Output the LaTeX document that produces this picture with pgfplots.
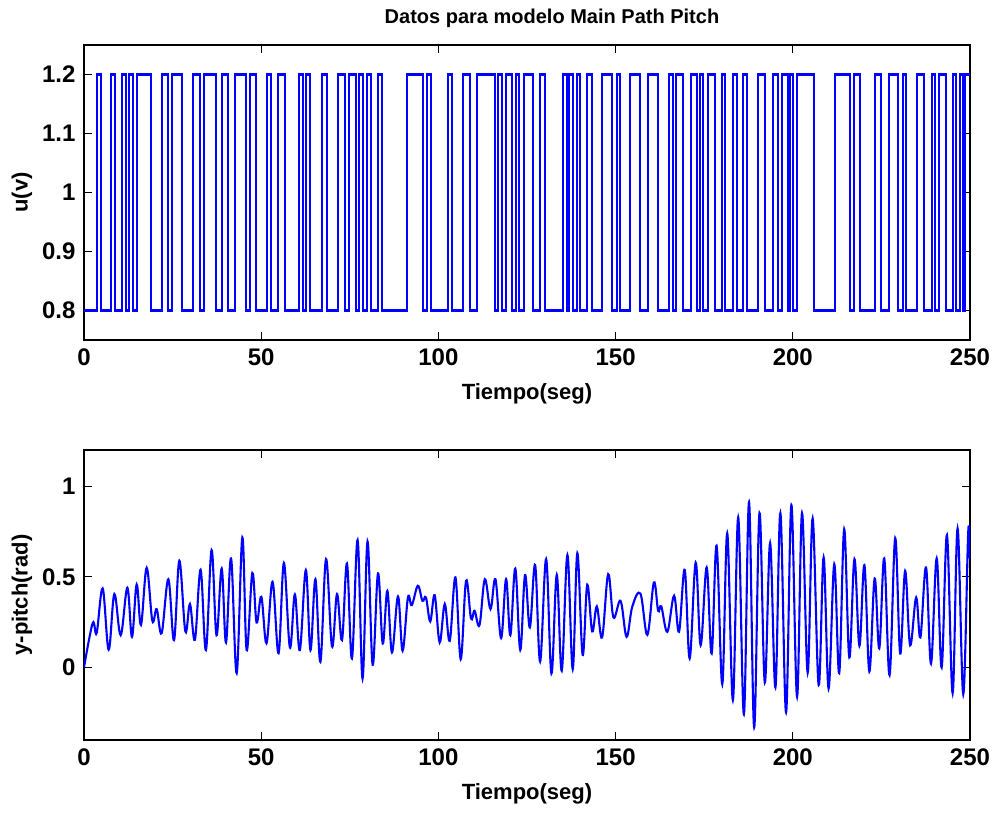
\documentclass[border=0pt]{standalone}
\usepackage{fontspec}
\setmainfont{Liberation Sans}
\usepackage{pgfplots}
\pgfplotsset{compat=1.18}
\begin{document}
\begin{tikzpicture}
\useasboundingbox (-84pt,-73pt) rectangle (913pt,740pt);
\pgfplotsset{
  every axis/.append style={
    scale only axis, width=886pt,
    xmin=0, xmax=250, xtick={0,50,100,150,200,250},
    font=\fontsize{22}{26}\selectfont\bfseries,
    tick label style={font=\fontsize{24}{28}\selectfont\bfseries},
    yticklabel style={xshift=-5pt},
    xticklabel style={yshift=-5pt},
    /pgf/number format/assume math mode=true,
    axis line style={line width=1.2pt},
    major tick length=8pt,
    every tick/.style={black, line width=1pt},
    xlabel={Tiempo(seg)},
    every axis x label/.style={at={(axis description cs:0.5,0)}, yshift=-54pt, anchor=center},
    every axis y label/.style={at={(axis description cs:0,0.5)}, xshift=-62pt, rotate=90, anchor=center},
  },
}
\begin{axis}[
  name=top, at={(0,400pt)}, anchor=south west,
  height=295pt,
  ymin=0.75, ymax=1.25, ytick={0.8,0.9,1,1.1,1.2},
  yticklabels={0.8,0.9,1,1.1,1.2},
  ylabel={u(v)},
  title={Datos para modelo Main Path Pitch},
  title style={at={(axis description cs:0.5,1)}, anchor=center, xshift=25pt, yshift=21pt, font=\fontsize{20}{24}\selectfont\bfseries},
]
\addplot[const plot, blue, line width=2.1pt] coordinates {
(0,0.8) (3.58,1.2) (4.71,0.8) (7.62,1.2) (8.75,0.8) (10.64,1.2) (11.77,0.8) (12.70,1.2) (13.74,0.8) (15.04,1.2) (18.82,0.8) (21.92,1.2) (23.79,0.8) (24.75,1.2) (27.74,0.8) (30.84,1.2) (32.73,0.8) (33.86,1.2) (37.16,0.8) (38.85,1.2) (40.72,0.8) (42.61,1.2) (45.71,0.8) (46.84,1.2) (48.53,0.8) (51.72,1.2) (52.68,0.8) (54.82,1.2) (56.72,0.8) (60.75,1.2) (61.71,0.8) (62.56,1.2) (63.77,0.8) (67.07,1.2) (68.65,0.8) (71.76,1.2) (73.65,0.8) (74.86,1.2) (76.66,0.8) (77.68,1.2) (78.81,0.8) (79.94,1.2) (80.90,0.8) (83.04,1.2) (84.00,0.8) (91.05,1.2) (95.57,0.8) (96.87,1.2) (97.83,0.8) (102.79,1.2) (103.92,0.8) (107.03,1.2) (108.92,0.8) (110.81,1.2) (115.97,0.8) (116.90,1.2) (117.86,0.8) (119.07,1.2) (120.68,0.8) (121.90,1.2) (122.83,0.8) (124.24,1.2) (126.69,0.8) (128.67,1.2) (130.08,0.8) (135.07,1.2) (136.20,0.8) (136.94,1.2) (138.06,0.8) (139.02,1.2) (139.95,0.8) (141.84,1.2) (143.26,0.8) (146.08,1.2) (148.90,0.8) (150.31,1.2) (151.24,0.8) (154.06,1.2) (156.88,0.8) (159.06,1.2) (161.88,0.8) (165.15,1.2) (166.11,0.8) (166.96,1.2) (169.10,0.8) (171.28,1.2) (172.88,0.8) (173.81,1.2) (174.75,0.8) (176.16,1.2) (178.05,0.8) (179.94,1.2) (180.87,0.8) (183.04,1.2) (184.17,0.8) (186.03,1.2) (187.16,0.8) (190.26,1.2) (192.16,0.8) (194.33,1.2) (195.91,0.8) (196.87,1.2) (198.65,0.8) (199.21,1.2) (200.06,0.8) (201.19,1.2) (205.98,0.8) (211.91,1.2) (216.14,0.8) (217.27,1.2) (218.96,0.8) (223.19,1.2) (224.80,0.8) (227.23,1.2) (229.77,0.8) (231.01,1.2) (231.94,0.8) (234.96,1.2) (237.02,0.8) (239.19,1.2) (240.12,0.8) (241.34,1.2) (243.23,0.8) (245.12,1.2) (246.05,0.8) (247.18,1.2) (247.94,0.8) (248.59,1.2) (250,1.2)
};
\end{axis}
\begin{axis}[
  name=bottom, at={(0,0pt)}, anchor=south west,
  height=290pt,
  ymin=-0.4, ymax=1.2, ytick={0,0.5,1},
  yticklabels={0,0.5,1},
  ylabel={y-pitch(rad)},
]
\addplot[smooth, tension=0.6, blue, line width=2.1pt] coordinates {
(0,0) (2.45,0.245) (3.57,0.19) (5.27,0.436) (6.96,0.098) (8.56,0.405) (10.35,0.178) (12.23,0.44) (13.54,0.169) (14.86,0.458) (16.08,0.235) (17.68,0.55) (19.28,0.258) (20.5,0.322) (21.92,0.19) (23.8,0.487) (25.4,0.151) (26.9,0.589) (28.6,0.199) (29.9,0.35) (31.3,0.153) (32.9,0.539) (34.4,0.096) (36.0,0.648) (37.4,0.178) (38.85,0.546) (40.07,0.138) (41.5,0.602) (43.08,-0.031) (44.68,0.717) (45.9,0.096) (47.5,0.521) (48.7,0.248) (50.04,0.39) (51.5,0.134) (53.2,0.473) (54.9,0.079) (56.4,0.576) (58.1,0.11) (59.5,0.403) (60.9,0.096) (62.6,0.537) (63.9,0.096) (65.3,0.487) (66.7,0.031) (68.3,0.598) (69.98,0.116) (71.4,0.405) (72.8,0.151) (74.2,0.574) (75.6,0.05) (77.2,0.703) (78.6,-0.061) (80.0,0.695) (81.45,0.015) (82.96,0.519) (84.3,0.132) (85.6,0.423) (86.9,0.083) (88.6,0.392) (89.9,0.092) (91.4,0.386) (92.5,0.344) (94.2,0.451) (95.5,0.368) (96.5,0.386) (97.7,0.254) (98.95,0.399) (100.36,0.138) (101.8,0.35) (103.2,0.147) (104.8,0.497) (106.3,0.046) (107.8,0.478) (109.2,0.27) (110.2,0.313) (111.6,0.234) (113.1,0.487) (114.7,0.322) (116.1,0.487) (117.7,0.162) (119.1,0.487) (120.3,0.178) (121.7,0.546) (123.1,0.096) (124.45,0.51) (125.8,0.221) (127.3,0.565) (128.7,0.033) (130.4,0.598) (131.9,-0.033) (133.4,0.511) (134.8,-0.018) (136.4,0.62) (137.9,-0.009) (139.2,0.631) (140.7,0.07) (142.0,0.456) (143.4,0.199) (144.7,0.337) (146.2,0.166) (147.9,0.515) (149.4,0.276) (151.4,0.368) (153.1,0.169) (154.7,0.335) (157.0,0.408) (158.96,0.18) (160.8,0.469) (162.0,0.313) (162.9,0.337) (164.6,0.197) (166.5,0.396) (167.9,0.197) (169.5,0.539) (170.9,0.05) (172.6,0.579) (174.0,0.123) (175.7,0.552) (177.1,0.077) (178.5,0.671) (180.1,-0.092) (181.5,0.741) (183.1,-0.18) (184.6,0.828) (186.2,-0.258) (187.65,0.913) (189.1,-0.331) (190.6,0.852) (192.1,-0.083) (193.6,0.686) (195.1,-0.11) (196.5,0.852) (198.1,-0.248) (199.6,0.896) (201.2,-0.162) (202.6,0.852) (204.2,-0.028) (205.6,0.822) (207.3,-0.097) (208.7,0.607) (210.1,-0.116) (211.7,0.57) (213.1,-0.031) (214.5,0.763) (215.95,0.055) (217.4,0.598) (218.8,0.12) (220.2,0.565) (221.6,-0.022) (223.1,0.491) (224.4,0.105) (225.8,0.602) (227.3,-0.042) (228.9,0.714) (230.3,0.077) (231.7,0.533) (233.1,0.123) (234.8,0.386) (236.0,0.166) (237.6,0.552) (239.0,0.022) (240.6,0.602) (242.0,0.0) (243.5,0.73) (245.1,-0.142) (246.5,0.767) (248.1,-0.147) (249.5,0.749) (250,0.6)
};
\end{axis}
\end{tikzpicture}
\end{document}
